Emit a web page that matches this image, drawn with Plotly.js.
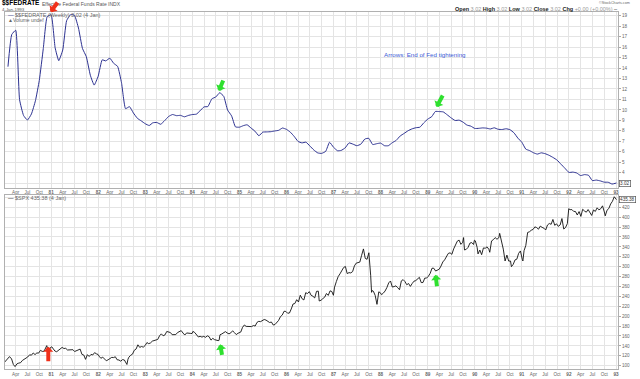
<!DOCTYPE html>
<html><head><meta charset="utf-8">
<script src="https://cdn.plot.ly/plotly-3.0.1.min.js"></script>
<style>html,body{margin:0;padding:0;background:#fff}#chart{width:640px;height:379px}</style>
</head><body><div id="chart"></div>
<script>
// Effective Fed Funds rate, monthly (Feb 1980 .. Dec 1992) + 4 Jan 1993
const fedRate = [
 14.13,17.19,17.61,10.98,9.47,9.03,9.61,10.87,12.81,15.85,18.90,
 19.08,15.93,14.70,15.72,18.52,19.10,19.04,17.82,15.87,15.08,13.31,12.37,
 13.22,14.78,14.68,14.94,14.45,14.15,12.59,10.12,10.31,9.71,9.20,8.95,
 8.68,8.51,8.77,8.80,8.63,8.98,9.37,9.56,9.45,9.48,9.34,9.47,
 9.56,9.59,9.91,10.29,10.32,11.06,11.23,11.64,11.30,9.99,9.43,8.38,
 8.35,8.50,8.58,8.27,7.97,7.53,7.88,7.90,7.92,7.99,8.05,8.27,
 8.14,7.86,7.48,6.99,6.85,6.92,6.56,6.17,5.89,5.85,6.04,6.91,
 6.43,6.10,6.13,6.37,6.85,6.73,6.58,6.73,7.22,7.29,6.69,6.77,
 6.83,6.58,6.58,6.87,7.09,7.51,7.75,8.01,8.19,8.30,8.35,8.76,
 9.12,9.36,9.85,9.84,9.81,9.53,9.24,8.99,9.02,8.84,8.55,8.45,
 8.23,8.24,8.28,8.26,8.18,8.29,8.15,8.13,8.20,8.11,7.81,7.31,
 6.91,6.25,6.12,5.91,5.78,5.90,5.82,5.66,5.45,5.21,4.81,4.43,
 4.03,4.06,3.98,3.73,3.82,3.76,3.25,3.30,3.22,3.10,3.09,2.92,
 3.02];
const fedDates = [];
for (let y = 1980; y <= 1992; y++) for (let m = 1; m <= 12; m++) {
  if (y === 1980 && m === 1) continue;
  fedDates.push(y + '-' + String(m).padStart(2, '0') + '-01');
}
fedDates.push('1993-01-04');

// S&P 500 closes (roughly two readings per month)
const spxDates = [
'1980-01-04','1980-01-18','1980-02-01','1980-02-13','1980-02-29','1980-03-14','1980-03-27','1980-04-11','1980-04-25','1980-05-09','1980-05-23','1980-06-06','1980-06-20','1980-07-03','1980-07-18','1980-08-01','1980-08-15','1980-08-29','1980-09-12','1980-09-26','1980-10-10','1980-10-24','1980-11-07','1980-11-21','1980-11-28','1980-12-12','1980-12-26',
'1981-01-06','1981-01-16','1981-01-30','1981-02-13','1981-02-27','1981-03-13','1981-03-27','1981-04-10','1981-04-24','1981-05-08','1981-05-22','1981-06-05','1981-06-19','1981-07-02','1981-07-17','1981-07-31','1981-08-14','1981-08-28','1981-09-11','1981-09-25','1981-10-09','1981-10-23','1981-11-06','1981-11-20','1981-12-04','1981-12-18','1981-12-31',
'1982-01-08','1982-01-22','1982-02-05','1982-02-19','1982-03-05','1982-03-19','1982-04-02','1982-04-16','1982-04-30','1982-05-14','1982-05-28','1982-06-11','1982-06-25','1982-07-09','1982-07-23','1982-08-06','1982-08-12','1982-08-20','1982-08-27','1982-09-10','1982-09-24','1982-10-08','1982-10-22','1982-11-05','1982-11-19','1982-12-03','1982-12-17','1982-12-31',
'1983-01-14','1983-01-28','1983-02-11','1983-02-25','1983-03-11','1983-03-25','1983-04-08','1983-04-22','1983-05-06','1983-05-20','1983-06-03','1983-06-17','1983-07-01','1983-07-15','1983-07-29','1983-08-12','1983-08-26','1983-09-09','1983-09-23','1983-10-07','1983-10-21','1983-11-04','1983-11-18','1983-12-02','1983-12-16','1983-12-30',
'1984-01-06','1984-01-20','1984-02-03','1984-02-17','1984-03-02','1984-03-16','1984-03-30','1984-04-13','1984-04-27','1984-05-11','1984-05-25','1984-06-08','1984-06-22','1984-07-06','1984-07-20','1984-07-27','1984-08-03','1984-08-17','1984-08-31','1984-09-14','1984-09-28','1984-10-12','1984-10-26','1984-11-09','1984-11-23','1984-12-07','1984-12-21','1984-12-31',
'1985-01-11','1985-01-25','1985-02-08','1985-02-22','1985-03-08','1985-03-22','1985-04-05','1985-04-19','1985-05-03','1985-05-17','1985-05-31','1985-06-14','1985-06-28','1985-07-12','1985-07-26','1985-08-09','1985-08-23','1985-09-06','1985-09-20','1985-10-04','1985-10-18','1985-11-01','1985-11-15','1985-11-29','1985-12-13','1985-12-27',
'1986-01-10','1986-01-24','1986-02-07','1986-02-21','1986-03-07','1986-03-21','1986-04-04','1986-04-18','1986-05-02','1986-05-16','1986-05-30','1986-06-13','1986-06-27','1986-07-11','1986-07-25','1986-08-08','1986-08-22','1986-09-05','1986-09-12','1986-09-26','1986-10-10','1986-10-24','1986-11-07','1986-11-21','1986-12-05','1986-12-19','1986-12-31',
'1987-01-09','1987-01-23','1987-02-06','1987-02-20','1987-03-06','1987-03-20','1987-04-03','1987-04-17','1987-05-01','1987-05-15','1987-05-29','1987-06-12','1987-06-26','1987-07-10','1987-07-24','1987-08-07','1987-08-21','1987-09-04','1987-09-18','1987-10-02','1987-10-09','1987-10-16','1987-10-23','1987-10-30','1987-11-06','1987-11-20','1987-12-04','1987-12-18','1987-12-31',
'1988-01-08','1988-01-22','1988-02-05','1988-02-19','1988-03-04','1988-03-18','1988-04-01','1988-04-15','1988-04-29','1988-05-13','1988-05-27','1988-06-10','1988-06-24','1988-07-08','1988-07-22','1988-08-05','1988-08-19','1988-09-02','1988-09-16','1988-09-30','1988-10-14','1988-10-28','1988-11-11','1988-11-25','1988-12-09','1988-12-23',
'1989-01-06','1989-01-20','1989-02-03','1989-02-17','1989-03-03','1989-03-17','1989-03-31','1989-04-14','1989-04-28','1989-05-12','1989-05-26','1989-06-09','1989-06-23','1989-07-07','1989-07-21','1989-08-04','1989-08-18','1989-09-01','1989-09-15','1989-09-29','1989-10-06','1989-10-13','1989-10-27','1989-11-10','1989-11-24','1989-12-08','1989-12-22','1989-12-29',
'1990-01-05','1990-01-19','1990-01-26','1990-02-09','1990-02-23','1990-03-09','1990-03-23','1990-04-06','1990-04-20','1990-04-27','1990-05-11','1990-05-25','1990-06-08','1990-06-22','1990-07-06','1990-07-13','1990-07-27','1990-08-10','1990-08-24','1990-09-07','1990-09-21','1990-10-05','1990-10-12','1990-10-26','1990-11-09','1990-11-23','1990-12-07','1990-12-21',
'1991-01-04','1991-01-09','1991-01-18','1991-02-01','1991-02-15','1991-03-01','1991-03-15','1991-03-29','1991-04-12','1991-04-26','1991-05-10','1991-05-24','1991-06-07','1991-06-21','1991-07-05','1991-07-19','1991-08-02','1991-08-16','1991-08-30','1991-09-13','1991-09-27','1991-10-11','1991-10-25','1991-11-08','1991-11-22','1991-12-06','1991-12-20','1991-12-31',
'1992-01-10','1992-01-24','1992-02-07','1992-02-21','1992-03-06','1992-03-20','1992-04-03','1992-04-17','1992-05-01','1992-05-15','1992-05-29','1992-06-12','1992-06-26','1992-07-10','1992-07-24','1992-08-07','1992-08-21','1992-09-04','1992-09-18','1992-10-02','1992-10-09','1992-10-23','1992-11-06','1992-11-20','1992-12-04','1992-12-18','1992-12-31',
'1993-01-04'];
const spxClose = [
106.5,111.1,115.1,118.4,113.7,102.3,98.2,103.8,105.2,106.1,110.6,113.2,114.1,117.5,122.0,121.2,125.7,122.4,125.7,125.4,131.0,128.8,129.2,139.1,140.5,127.4,136.6,
138.1,134.8,129.6,128.2,131.3,133.2,136.9,134.7,135.1,131.7,132.1,133.0,132.3,128.6,130.0,131.0,133.5,122.8,121.6,112.8,122.3,118.6,122.7,121.7,126.3,124.0,122.6,
119.2,114.9,117.3,113.2,109.9,111.9,115.1,116.8,116.4,118.0,111.9,111.5,109.1,112.3,111.5,104.0,102.4,113.0,117.1,121.0,123.3,131.1,133.6,142.2,137.0,138.7,137.5,140.6,
146.7,144.5,146.0,149.6,150.8,152.7,153.0,160.4,164.3,160.4,162.1,169.1,168.6,167.0,162.6,162.2,162.8,167.0,169.5,170.8,165.9,161.9,166.1,166.3,165.3,164.9,
169.3,167.0,163.5,158.0,159.3,157.8,159.2,157.3,160.3,158.5,151.6,155.2,152.6,151.0,150.6,151.2,162.4,164.1,166.7,168.8,166.1,164.2,166.3,170.4,166.9,162.8,165.5,167.2,
167.9,177.4,182.2,179.4,179.1,179.0,179.0,181.1,180.1,187.4,189.6,189.0,191.9,193.3,192.1,188.9,187.2,188.2,182.1,183.2,187.7,191.5,199.1,202.2,209.9,209.6,
205.9,206.4,214.6,224.6,225.6,233.3,228.7,242.4,235.2,232.8,247.4,245.7,249.6,242.2,240.2,236.9,250.2,250.5,230.7,232.2,235.5,238.3,245.8,242.0,251.2,249.7,242.2,
258.7,270.1,280.0,285.5,290.7,298.2,300.4,286.0,288.0,287.4,290.1,301.6,307.2,308.4,309.3,323.0,335.9,316.7,314.9,328.1,311.1,282.7,248.2,251.8,250.4,242.0,223.9,249.2,247.1,
243.4,246.5,250.9,257.9,267.3,271.1,258.9,259.8,261.3,257.5,253.4,271.3,273.8,270.0,263.5,266.0,260.2,265.9,270.7,271.9,275.5,278.5,267.9,268.0,277.0,276.9,
280.7,286.6,296.9,296.8,291.2,292.7,294.9,301.4,309.6,313.8,321.6,326.7,328.0,324.9,335.9,343.9,351.5,353.7,345.1,349.2,358.8,333.7,335.1,339.1,347.6,348.7,344.8,353.4,
352.2,339.2,325.8,333.6,324.2,337.9,337.2,340.1,335.1,329.1,352.0,354.6,358.7,355.4,358.4,367.3,353.4,335.5,311.5,323.4,311.3,311.5,300.0,304.7,313.7,315.1,326.9,331.8,
315.0,311.5,332.2,343.1,369.1,370.5,373.6,375.2,380.4,379.0,375.7,381.9,379.4,377.8,374.1,384.2,387.2,385.6,395.4,383.6,386.5,381.5,384.2,397.2,376.1,379.1,387.0,417.1,
415.1,415.4,411.7,411.4,404.4,411.3,401.6,416.0,412.5,410.1,415.4,409.8,403.5,414.6,411.6,418.9,414.8,417.1,422.9,410.5,402.7,414.1,417.6,426.7,432.1,441.3,435.7,
435.4];

// quarterly time-axis ticks
const tickMonths = ['Apr','Jul','Oct'];
const tickVals = [], tickText = [];
for (let y = 1980; y <= 1993; y++) {
  if (y > 1980) { tickVals.push(y + '-01-01'); tickText.push('<b>' + String(y).slice(2) + '</b>'); }
  if (y < 1993) ['04','07','10'].forEach((m, i) => { tickVals.push(y + '-' + m + '-01'); tickText.push(tickMonths[i]); });
}
const fedTicks = [3,4,5,6,7,8,9,10,11,12,13,14,15,16,17,18,19];
const fedTickText = ['','4','5','6','7','8','9','10','11','12','13','14','15','16','17','18','19'];
const spxTicks = [100,120,140,160,180,200,220,240,260,280,300,320,340,360,380,400,420,440];
const spxTickText = ['100','120','140','160','180','200','220','240','260','280','300','320','340','360','380','400','420',''];

const FONT = 'Liberation Sans, Arial, sans-serif';
const PX = x => (x - 5) / 613.5;
const PY = y => (369 - y) / 357;

const xCommon = {
  type: 'date', range: ['1980-01-09', '1993-01-16'],
  tickvals: tickVals, ticktext: tickText, ticks: '',
  tickfont: {family: FONT, size: 4.6, color: '#666'},
  showgrid: true, gridcolor: '#e4e4e4', gridwidth: 1,
  showline: true, linecolor: '#b0b0b0', linewidth: 1, mirror: true,
  zeroline: false, fixedrange: true
};
const yCommon = {
  side: 'right', ticks: 'outside', ticklen: 2, tickcolor: '#aaa',
  tickfont: {family: FONT, size: 4.6, color: '#666'},
  showgrid: true, gridcolor: '#e4e4e4', gridwidth: 1,
  showline: true, linecolor: '#b0b0b0', linewidth: 1, mirror: true,
  zeroline: false, fixedrange: true
};

const traces = [
  {x: fedDates, y: fedRate, xaxis: 'x', yaxis: 'y', type: 'scatter', mode: 'lines',
   line: {color: '#2c3190', width: 1, shape: 'spline', smoothing: 0.4}, hoverinfo: 'skip'},
  {x: spxDates, y: spxClose, xaxis: 'x2', yaxis: 'y2', type: 'scatter', mode: 'lines',
   line: {color: '#111', width: 0.9}, hoverinfo: 'skip'}
];

function txt(text, x, y, size, color, xanchor) {
  return {text: text, xref: 'paper', yref: 'paper', x: PX(x), y: PY(y), xanchor: xanchor || 'left',
          yanchor: 'middle', showarrow: false, font: {family: FONT, size: size, color: color}};
}
function arrow(xr, yr, x, y, ax, ay, color) {
  return {xref: xr, yref: yr, x: x, y: y, ax: ax, ay: ay, text: '', showarrow: true,
          arrowhead: 1, arrowsize: 0.42, arrowwidth: 4, arrowcolor: color, standoff: 0};
}

const annotations = [
  txt('<b>$$FEDRATE</b>', 0, 3.4, 6.5, '#000'),
  txt('Effective Federal Funds Rate INDX', 40.5, 3.6, 5, '#555'),
  txt('4-Jan-1993', 0, 9.2, 4.4, '#555'),
  txt('<span style="color:#2c3190">—</span> $$FEDRATE (Weekly) 3.02 (4 Jan)', 6, 15.4, 5.5, '#666'),
  txt('▲Volume undef', 6, 20.2, 5, '#666'),
  txt('©StockCharts.com', 633, 3.4, 3.7, '#666', 'right'),
  txt('<b>Open</b> <span style="color:#999">3.02</span> <b>High</b> <span style="color:#999">3.02</span> <b>Low</b> <span style="color:#999">3.02</span> <b>Close</b> <span style="color:#999">3.02</span> <b>Chg</b> <span style="color:#999">+0.00 (+0.00%)</span> –', 621, 9.4, 5.5, '#222', 'right'),
  txt('Arrows: End of Fed tightening', 382, 54, 6.2, '#3b5bd6'),
  txt('<span style="color:#111">—</span> $SPX 435.38 (4 Jan)', 6, 197.8, 5.5, '#666'),
  {text: '3.02', xref: 'paper', yref: 'y', x: 1, y: 3.02, xanchor: 'left', yanchor: 'middle', xshift: 0.5,
   showarrow: false, bgcolor: '#fff', bordercolor: '#555', borderwidth: 0.7, borderpad: 0.4,
   font: {family: FONT, size: 4.6, color: '#333'}},
  {text: '435.38', xref: 'paper', yref: 'y2', x: 1, y: 435.38, xanchor: 'left', yanchor: 'middle', xshift: 0.5,
   showarrow: false, bgcolor: '#fff', bordercolor: '#555', borderwidth: 0.7, borderpad: 0.4,
   font: {family: FONT, size: 4.6, color: '#333'}},
  arrow('x', 'y', '1980-12-28', 19.35, 8, -11, '#f0301a'),
  arrow('x', 'y', '1984-07-25', 11.81, 5, -12, '#2fe02f'),
  arrow('x', 'y', '1989-03-10', 10.28, 7, -13, '#2fe02f'),
  arrow('x2', 'y2', '1980-12-10', 138.5, 0, 16, '#f0301a'),
  arrow('x2', 'y2', '1984-08-05', 143.1, 2, 12, '#2fe02f'),
  arrow('x2', 'y2', '1989-03-03', 283.6, 1.5, 13, '#2fe02f')
];

const layout = {
  width: 640, height: 379,
  margin: {l: 5, r: 21.5, t: 12, b: 10, pad: 0},
  paper_bgcolor: '#fff', plot_bgcolor: '#fff', showlegend: false,
  font: {family: FONT, size: 5, color: '#555'},
  xaxis: Object.assign({}, xCommon, {anchor: 'y'}),
  xaxis2: Object.assign({}, xCommon, {anchor: 'y2'}),
  yaxis: Object.assign({}, yCommon, {domain: [0.5084, 1], range: [2.59, 19.35], tickvals: fedTicks, ticktext: fedTickText, anchor: 'x'}),
  yaxis2: Object.assign({}, yCommon, {domain: [0, 0.4874], range: [93.3, 444.8], tickvals: spxTicks, ticktext: spxTickText, anchor: 'x2'}),
  annotations: annotations
};

Plotly.newPlot('chart', traces, layout, {staticPlot: true, displayModeBar: false});
</script>
</body></html>
